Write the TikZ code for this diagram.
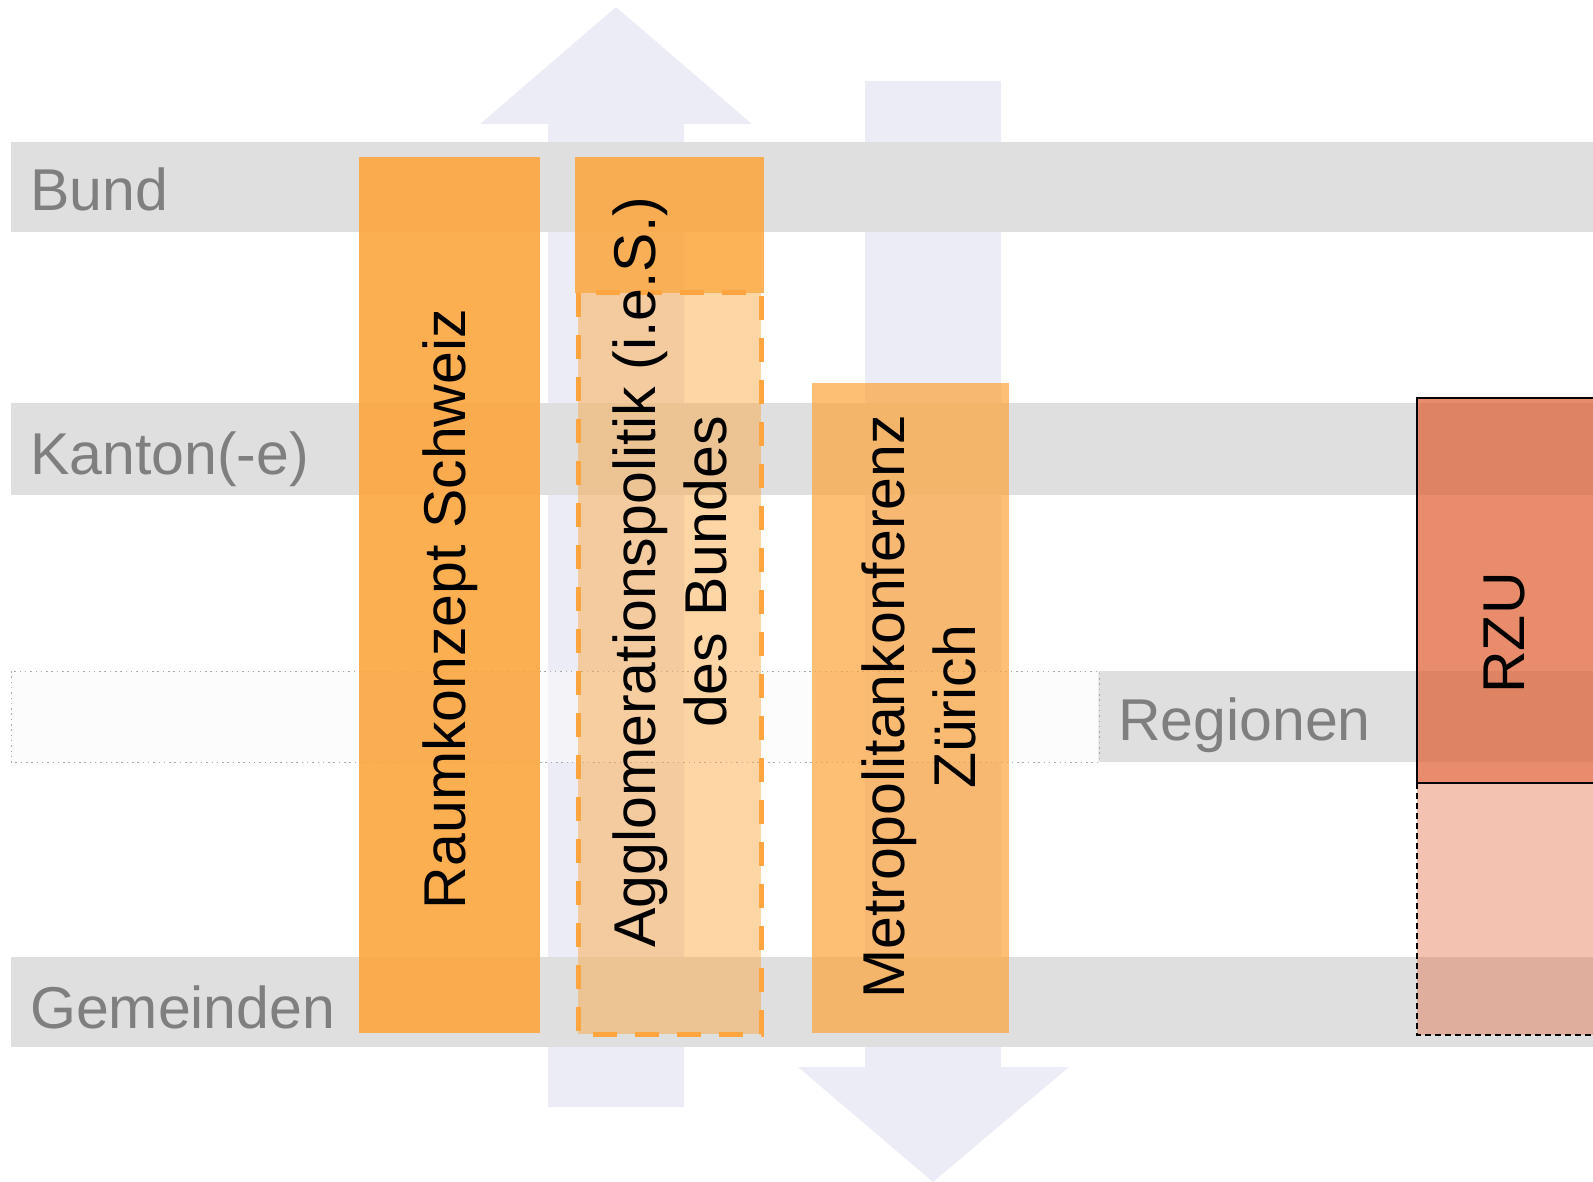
\documentclass[tikz,border=0pt]{standalone}
\usepackage{fontspec}
\setmainfont{Liberation Sans}
\definecolor{bandgray}{HTML}{DFDFDF}
\definecolor{arrowc}{HTML}{ECECF6}
\definecolor{labelgray}{HTML}{7F7F7F}
\definecolor{orng}{HTML}{FCA63E}
\definecolor{rzuc}{HTML}{E0663A}
\definecolor{dashorange}{HTML}{FFA53F}
\definecolor{dotgray}{HTML}{A8A8A8}
\begin{document}
\begin{tikzpicture}[x=1pt,y=-1pt,
  band/.style={fill=bandgray, draw=none},
  bigarrow/.style={fill=arrowc, draw=none},
  lbl/.style={anchor=base west, inner sep=0pt, text=labelgray, font=\fontsize{59}{71}\selectfont},
  vtext/.style={rotate=90, inner sep=0pt, align=center, text=black, font=\fontsize{59}{71}\selectfont},
  orangebox/.style={fill=orng, draw=none, fill opacity=#1},
  aggdash/.style={fill=orng, fill opacity=0.47, draw=dashorange, line width=5pt, dash pattern=on 24pt off 18pt},
  rzusolid/.style={fill=rzuc, fill opacity=0.75, draw=black, line width=1.5pt},
  rzudash/.style={fill=rzuc, fill opacity=0.4, draw=black, line width=1.5pt, dash pattern=on 6pt off 4pt},
  dotband/.style={fill=white!98!black, fill opacity=0.5, draw=dotgray, line width=1pt, dash pattern=on 1.5pt off 3.8pt}
]
\useasboundingbox (0,0) rectangle (1593,1182);
% big arrows
\fill[bigarrow] (548,1107) -- (548,124) -- (480,124) -- (616,7) -- (752,124) -- (684,124) -- (684,1107) -- cycle;
\fill[bigarrow] (865,81) -- (1001,81) -- (1001,1067) -- (1069,1067) -- (933,1182) -- (798,1067) -- (865,1067) -- cycle;
% level bands
\fill[band] (11,142) rectangle (1600,232);
\fill[band] (11,403) rectangle (1600,495);
\fill[band] (11,957) rectangle (1600,1047);
\fill[band] (1098,671) rectangle (1600,762);
\filldraw[dotband] (11,671) rectangle (1099,762);
% boxes
\fill[orangebox=0.9] (359,157) rectangle (540,1033);
\fill[orangebox=0.87] (575,157) rectangle (764,293);
\filldraw[aggdash] (578,293) rectangle (761,1034);
\fill[orangebox=0.72] (812,383) rectangle (1009,1033);
\filldraw[rzudash] (1417,783) rectangle (1600,1035);
\filldraw[rzusolid] (1417,398) rectangle (1600,783);
% labels
\node[lbl] (bund) at (30,211) {Bund};
\node[lbl] (kanton) at (30,474) {Kanton(-e)};
\node[lbl] (gemeinden) at (30,1028) {Gemeinden};
\node[lbl] (regionen) at (1118,740) {Regionen};
% box texts
\node[vtext] (raum) at (450,609) {Raumkonzept Schweiz};
\node[vtext] (agglo) at (669.5,572) {Agglomerationspolitik (i.e.S.)\\des Bundes};
\node[vtext] (metro) at (919,707) {Metropolitankonferenz\\Zürich};
\node[vtext] (rzu) at (1504.5,633) {RZU};
\end{tikzpicture}
\end{document}
